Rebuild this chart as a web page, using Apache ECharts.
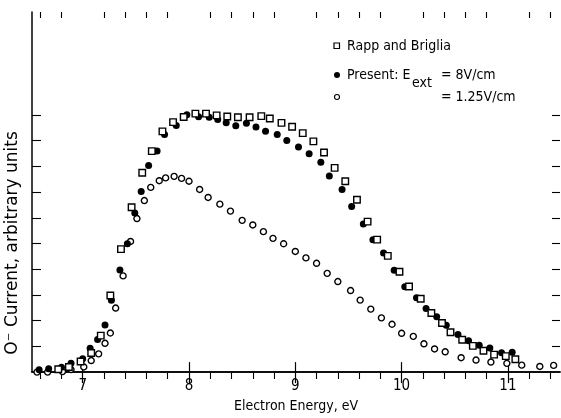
<!DOCTYPE html>
<html>
<head>
<meta charset="utf-8">
<script src="https://cdn.jsdelivr.net/npm/echarts@6/dist/echarts.min.js"></script>
<style>
  html, body { margin: 0; padding: 0; background: #fff; }
  #chart { width: 561px; height: 418px; }
</style>
</head>
<body>
<div id="chart"></div>
<script>
// Rapp and Briglia (open squares)
const energyRapp = [6.77, 6.87, 6.98, 7.08, 7.17, 7.26, 7.36, 7.46, 7.56, 7.65, 7.75, 7.85, 7.95, 8.06, 8.16,
  8.26, 8.36, 8.46, 8.57, 8.68, 8.76, 8.87, 8.97, 9.07, 9.17, 9.27, 9.37, 9.47, 9.58, 9.68,
  9.77, 9.87, 9.98, 10.07, 10.18, 10.28, 10.38, 10.46, 10.57, 10.67, 10.77, 10.87, 10.98, 11.07];
const currentRapp = [0.11, 0.20, 0.41, 0.74, 1.42, 2.98, 4.78, 6.41, 7.75, 8.59, 9.36, 9.72, 9.92, 10.05, 10.05,
  9.98, 9.94, 9.91, 9.91, 9.95, 9.86, 9.69, 9.54, 9.29, 8.97, 8.54, 7.94, 7.42, 6.70, 5.85,
  5.15, 4.52, 3.90, 3.33, 2.85, 2.30, 1.91, 1.55, 1.26, 1.02, 0.83, 0.68, 0.62, 0.50];

// Present work, E_ext = 8 V/cm (filled circles)
const energyHigh = [6.59, 6.68, 6.80, 6.89, 7.00, 7.07, 7.14, 7.21, 7.27, 7.35, 7.42, 7.49, 7.55, 7.62, 7.70,
  7.77, 7.88, 7.98, 8.09, 8.19, 8.27, 8.35, 8.44, 8.54, 8.63, 8.72, 8.83, 8.92, 9.03, 9.13,
  9.24, 9.32, 9.44, 9.53, 9.64, 9.73, 9.83, 9.93, 10.03, 10.14, 10.23, 10.33, 10.42, 10.53, 10.63,
  10.73, 10.83, 10.94, 11.04];
const currentHigh = [0.09, 0.13, 0.19, 0.34, 0.52, 0.93, 1.27, 1.83, 2.79, 3.97, 4.99, 6.19, 7.02, 8.03, 8.60,
  9.24, 9.59, 10.01, 9.93, 9.91, 9.82, 9.69, 9.58, 9.67, 9.53, 9.36, 9.24, 9.00, 8.75, 8.49,
  8.16, 7.62, 7.10, 6.44, 5.76, 5.15, 4.63, 3.96, 3.32, 2.89, 2.47, 2.15, 1.82, 1.46, 1.22,
  1.04, 0.94, 0.75, 0.77];

// Present work, E_ext = 1.25 V/cm (open circles)
const energyLow = [6.57, 6.67, 6.81, 6.89, 7.01, 7.08, 7.15, 7.21, 7.26, 7.31, 7.38, 7.45, 7.51, 7.58, 7.64,
  7.72, 7.78, 7.86, 7.93, 8.00, 8.10, 8.18, 8.29, 8.39, 8.50, 8.60, 8.70, 8.79, 8.89, 9.00,
  9.10, 9.20, 9.30, 9.40, 9.52, 9.61, 9.71, 9.81, 9.91, 10.00, 10.11, 10.21, 10.31, 10.41, 10.56,
  10.70, 10.84, 10.99, 11.13, 11.30, 11.43];
const currentLow = [0.00, 0.00, 0.02, 0.10, 0.20, 0.45, 0.71, 1.12, 1.52, 2.49, 3.74, 5.08, 5.97, 6.67, 7.18,
  7.44, 7.55, 7.61, 7.53, 7.42, 7.10, 6.79, 6.53, 6.26, 5.90, 5.72, 5.46, 5.20, 4.99, 4.69,
  4.44, 4.23, 3.84, 3.52, 3.17, 2.80, 2.45, 2.11, 1.86, 1.51, 1.39, 1.10, 0.90, 0.79, 0.56,
  0.47, 0.39, 0.34, 0.27, 0.22, 0.26];

// Axis ticks
const xMajorTicks = [7, 8, 9, 10, 11];
const xMinorTicks = [6.6, 6.8, 7.2, 7.4, 7.6, 7.8, 8.2, 8.4, 8.6, 8.8, 9.2, 9.4, 9.6, 9.8,
  10.2, 10.4, 10.6, 10.8, 11.2, 11.4];
const yTicks = [1, 2, 3, 4, 5, 6, 7, 8, 9, 10];

const X_MIN = 6.523, X_MAX = 11.49, Y_MIN = 0, Y_MAX = 14;
const FONT = '"DejaVu Sans Condensed", "Liberation Sans Narrow", sans-serif';
const INK = '#000';

const pairs = (xs, ys) => xs.map((x, i) => [x, ys[i]]);

const gridBox = { left: 32, right: 1, top: 12, bottom: 39 };

const chart = echarts.init(document.getElementById('chart'), null, { renderer: 'canvas' });

chart.setOption({
  animation: false,
  backgroundColor: '#fff',
  grid: [Object.assign({}, gridBox), Object.assign({}, gridBox)],
  xAxis: [
    {
      gridIndex: 0, type: 'value', position: 'bottom', min: X_MIN, max: X_MAX,
      axisLine: { show: true, lineStyle: { color: INK, width: 1.5 } },
      axisTick: { show: true, inside: true, length: 10, customValues: xMajorTicks, lineStyle: { color: INK, width: 1.2 } },
      axisLabel: { show: true, customValues: xMajorTicks, color: INK, fontSize: 15, fontFamily: FONT, margin: 7 },
      splitLine: { show: false },
      name: 'Electron Energy, eV', nameLocation: 'middle', nameGap: 20,
      nameTextStyle: { color: INK, fontSize: 14, fontFamily: FONT }
    },
    {
      gridIndex: 0, type: 'value', position: 'top', min: X_MIN, max: X_MAX,
      axisLine: { show: true, lineStyle: { color: INK, width: 1.5 } },
      axisTick: { show: true, inside: true, length: 11, customValues: xMajorTicks, lineStyle: { color: INK, width: 1.2 } },
      axisLabel: { show: false },
      splitLine: { show: false }
    },
    {
      gridIndex: 1, type: 'value', position: 'bottom', min: X_MIN, max: X_MAX,
      axisLine: { show: false },
      axisTick: { show: true, inside: true, length: 6, customValues: xMinorTicks, lineStyle: { color: INK, width: 1.1 } },
      axisLabel: { show: false },
      splitLine: { show: false }
    },
    {
      gridIndex: 1, type: 'value', position: 'top', min: X_MIN, max: X_MAX,
      axisLine: { show: false },
      axisTick: { show: true, inside: true, length: 6, customValues: xMinorTicks, lineStyle: { color: INK, width: 1.1 } },
      axisLabel: { show: false },
      splitLine: { show: false }
    }
  ],
  yAxis: [
    {
      gridIndex: 0, type: 'value', position: 'left', min: Y_MIN, max: Y_MAX,
      axisLine: { show: true, lineStyle: { color: INK, width: 1.5 } },
      axisTick: { show: true, inside: true, length: 9, customValues: yTicks, lineStyle: { color: INK, width: 1.1 } },
      axisLabel: { show: false },
      splitLine: { show: false }
    },
    {
      gridIndex: 0, type: 'value', position: 'right', min: Y_MIN, max: Y_MAX,
      axisLine: { show: false },
      axisTick: { show: true, inside: true, length: 8, customValues: yTicks, lineStyle: { color: INK, width: 1.1 } },
      axisLabel: { show: false },
      splitLine: { show: false }
    },
    {
      gridIndex: 1, type: 'value', min: Y_MIN, max: Y_MAX, show: false
    }
  ],
  series: [
    {
      name: '= 1.25V/cm', type: 'scatter', xAxisIndex: 0, yAxisIndex: 0,
      data: pairs(energyLow, currentLow),
      symbol: 'circle', symbolSize: 6,
      itemStyle: { color: '#fff', borderColor: INK, borderWidth: 1.4, opacity: 1 }
    },
    {
      name: 'Present: Eext = 8V/cm', type: 'scatter', xAxisIndex: 0, yAxisIndex: 0,
      data: pairs(energyHigh, currentHigh),
      symbol: 'circle', symbolSize: 7,
      itemStyle: { color: INK, opacity: 1 }
    },
    {
      name: 'Rapp and Briglia', type: 'scatter', xAxisIndex: 0, yAxisIndex: 0,
      data: pairs(energyRapp, currentRapp),
      symbol: 'rect', symbolSize: 6.5,
      itemStyle: { color: '#fff', borderColor: INK, borderWidth: 1.4, opacity: 1 }
    }
  ],
  graphic: [
    // vertical axis title
    {
      type: 'text', x: 13, y: 243, rotation: Math.PI / 2,
      style: { text: 'O\u207B Current, arbitrary units', fill: INK, font: '17px "DejaVu Sans", sans-serif', align: 'center', verticalAlign: 'middle' }
    },
    // key
    { type: 'rect', shape: { x: 334, y: 43, width: 5.5, height: 5.5 }, style: { fill: '#fff', stroke: INK, lineWidth: 1.2 } },
    { type: 'text', x: 347, y: 46, style: { text: 'Rapp and Briglia', fill: INK, font: '14px ' + FONT, verticalAlign: 'middle' } },
    { type: 'circle', shape: { cx: 337, cy: 75, r: 3 }, style: { fill: INK } },
    { type: 'text', x: 347, y: 75, style: { text: 'Present: E', fill: INK, font: '14px ' + FONT, verticalAlign: 'middle' } },
    { type: 'text', x: 412, y: 83, style: { text: 'ext', fill: INK, font: '14px ' + FONT, verticalAlign: 'middle' } },
    { type: 'text', x: 441, y: 75, style: { text: '= 8V/cm', fill: INK, font: '14px ' + FONT, verticalAlign: 'middle' } },
    { type: 'circle', shape: { cx: 337, cy: 97, r: 2.5 }, style: { fill: '#fff', stroke: INK, lineWidth: 1.1 } },
    { type: 'text', x: 441, y: 97, style: { text: '= 1.25V/cm', fill: INK, font: '14px ' + FONT, verticalAlign: 'middle' } }
  ]
});
</script>
</body>
</html>
